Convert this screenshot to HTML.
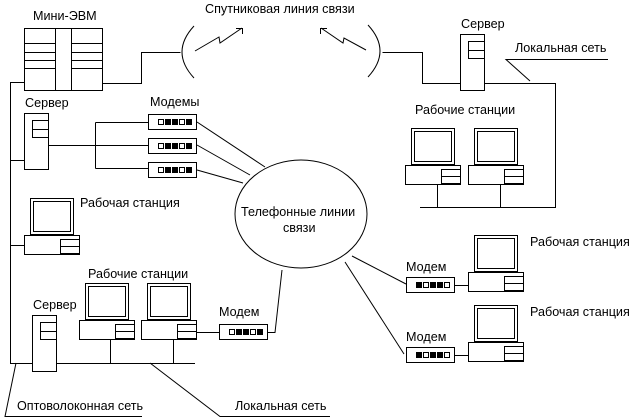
<!DOCTYPE html>
<html><head><meta charset="utf-8"><style>
html,body{margin:0;padding:0;background:#fff;}
svg{display:block;}
text{font-family:"Liberation Sans",sans-serif;font-size:12.6px;fill:#000;}
</style></head><body>
<svg width="641" height="419" viewBox="0 0 641 419" xmlns="http://www.w3.org/2000/svg">
<defs>
<g id="ws" fill="#fff" stroke="#000" stroke-width="1">
<rect x="6.5" y="-36.5" width="43" height="36"/>
<rect x="9.5" y="-33.5" width="37" height="30"/>
<rect x="0.5" y="0.5" width="55" height="19"/>
<rect x="36.5" y="4.5" width="19" height="14"/>
<line x1="36.5" y1="11.5" x2="55.5" y2="11.5"/>
</g>
<g id="modemA">
<rect x="0.5" y="0.5" width="48" height="15" fill="#fff" stroke="#000"/>
<rect x="10.5" y="5.5" width="5" height="5" fill="#fff" stroke="#000"/>
<rect x="17" y="5" width="6" height="6" fill="#000"/>
<rect x="24" y="5" width="6" height="6" fill="#000"/>
<rect x="31.5" y="5.5" width="5" height="5" fill="#fff" stroke="#000"/>
<rect x="38" y="5" width="6" height="6" fill="#000"/>
</g>
<g id="modemB">
<rect x="0.5" y="0.5" width="48" height="15" fill="#fff" stroke="#000"/>
<rect x="10" y="5" width="6" height="6" fill="#000"/>
<rect x="17.5" y="5.5" width="5" height="5" fill="#fff" stroke="#000"/>
<rect x="24" y="5" width="6" height="6" fill="#000"/>
<rect x="31" y="5" width="6" height="6" fill="#000"/>
<rect x="38.5" y="5.5" width="5" height="5" fill="#fff" stroke="#000"/>
</g>
<g id="srv" fill="#fff" stroke="#000">
<rect x="0.5" y="0.5" width="24" height="56"/>
<rect x="8.5" y="7.5" width="16" height="17"/>
<line x1="8.5" y1="16.5" x2="24.5" y2="16.5"/>
</g>
</defs>
<g fill="none" stroke="#000" stroke-width="1">
<rect x="24.5" y="28.5" width="78" height="62"/>
<line x1="55.5" y1="28.5" x2="55.5" y2="90.5"/>
<line x1="71.5" y1="28.5" x2="71.5" y2="90.5"/>
<path d="M24.5 43.5H55.5M24.5 52.5H55.5M24.5 60.5H55.5M24.5 68.5H55.5M71.5 43.5H102.5M71.5 52.5H102.5M71.5 60.5H102.5M71.5 68.5H102.5"/>
<path d="M102.5 83.5H141.5V52.5H180.5"/>
<path d="M194 26 Q170 52 194 78"/>
<path d="M195 51 L219 37 L220 43 L242 28 M236 28.5 H242.5 V34"/>
<path d="M368 25 Q392 51 368 77"/>
<path d="M366 50 L344 38 L343 43 L321 28 M327 28.5 H320.5 V34"/>
<path d="M382.5 52.5H422.5V83.5H460.5"/>
<path d="M484.5 83.5H555.5V207.5H420"/>
<path d="M530 81 L506 59.5 H608"/>
<path d="M437.5 184.5V207.5M500.5 184.5V207.5"/>
<path d="M24.5 82.5H10.5V363.5H195"/>
<path d="M10.5 160.5H24.5M10.5 245.5H24.5"/>
<path d="M48.5 145.5H148.5M95.5 122.5V168.5M95.5 122.5H148.5M95.5 168.5H148.5"/>
<path d="M197 122 L265 167 M197 145 L250 175 M197 170 L243 183"/>
<ellipse cx="301" cy="214" rx="66" ry="54"/>
<path d="M110.5 339.5V363.5M173.5 339.5V363.5"/>
<path d="M196.5 332.5H219.5M268 332.5H275 L282 270"/>
<path d="M16 363 L5 416.5H142"/>
<path d="M150 363 L220 416.5H330"/>
<path d="M352 256 L406 284 M345 262 L404 354"/>
<path d="M455 285.5H468.5M455 355.5H468.5"/>
</g>
<use href="#srv" x="24" y="113"/>
<use href="#srv" x="32" y="315"/>
<use href="#srv" x="460" y="34"/>
<use href="#ws" x="24" y="235"/>
<use href="#ws" x="79" y="320"/>
<use href="#ws" x="141" y="320"/>
<use href="#ws" x="405" y="165"/>
<use href="#ws" x="468" y="165"/>
<use href="#ws" x="468" y="272"/>
<use href="#ws" x="468" y="342"/>
<use href="#modemA" x="148" y="114"/>
<use href="#modemA" x="148" y="138"/>
<use href="#modemA" x="148" y="162"/>
<use href="#modemA" x="219" y="324"/>
<use href="#modemB" x="406" y="277"/>
<use href="#modemB" x="406" y="347"/>
<text x="33" y="20">Мини-ЭВМ</text>
<text x="205" y="13">Спутниковая линия связи</text>
<text x="461" y="28">Сервер</text>
<text x="515" y="52">Локальная сеть</text>
<text x="25" y="107">Сервер</text>
<text x="150" y="106">Модемы</text>
<text x="415" y="114">Рабочие станции</text>
<text x="80" y="207">Рабочая станция</text>
<text x="241" y="216">Телефонные линии</text>
<text x="283" y="232">связи</text>
<text x="530" y="246">Рабочая станция</text>
<text x="406" y="271">Модем</text>
<text x="88" y="278">Рабочие станции</text>
<text x="33" y="309">Сервер</text>
<text x="219" y="316">Модем</text>
<text x="530" y="316">Рабочая станция</text>
<text x="406" y="341">Модем</text>
<text x="17" y="410">Оптоволоконная сеть</text>
<text x="235" y="410">Локальная сеть</text>
</svg>
</body></html>
